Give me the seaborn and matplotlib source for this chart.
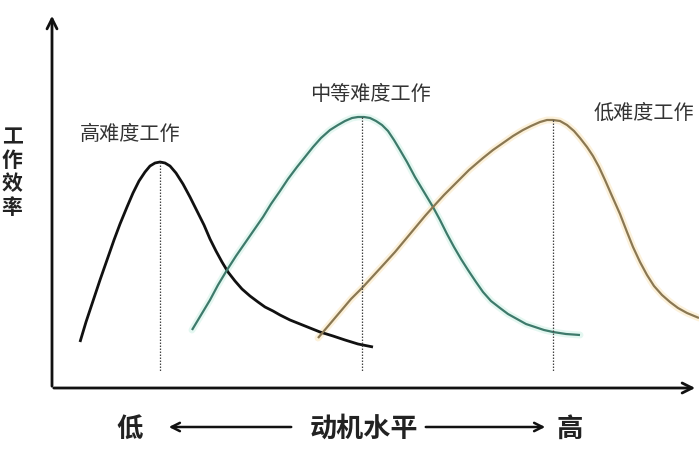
import matplotlib
matplotlib.use("Agg")
import matplotlib.pyplot as plt
import seaborn as sns
import pandas as pd

sns.set_theme(style="white")
plt.rcParams['font.family'] = ['Noto Sans CJK SC', 'DejaVu Sans']

# Values (x = motivation position, y = pixel row)
hard_x = [80, 86, 93, 100, 107, 114, 120, 127, 133, 139, 145, 150, 155, 160, 165, 170, 176, 183, 190, 197,
          204, 210, 216, 222, 228, 235, 242, 250, 258, 265, 273, 280, 290, 300, 310, 320, 333, 345, 358, 373]
hard_y = [342, 322, 301, 280, 260, 240, 224, 207, 193, 181, 172, 166, 163, 162, 163, 166, 173, 184, 197, 211,
          225, 239, 251, 262, 272, 281, 289, 296, 302, 307, 311, 315, 320, 324, 328, 332, 336, 340, 344, 347]

mid_x = [192, 201, 210, 218, 227, 236, 245, 254, 263, 271, 280, 288, 297, 305, 313, 321, 330, 338, 345, 352,
         358, 364, 370, 376, 382, 388, 394, 400, 407, 415, 424, 433, 440, 447, 454, 461, 468, 476, 483, 491,
         500, 508, 517, 526, 535, 544, 553, 566, 580]
mid_y = [330, 315, 300, 285, 270, 256, 243, 230, 217, 204, 191, 179, 167, 157, 147, 138, 130, 125, 121, 118,
         117, 117, 118, 121, 125, 131, 140, 150, 162, 177, 192, 207, 220, 234, 247, 259, 270, 282, 292, 301,
         308, 314, 319, 324, 327, 330, 332, 334, 335]

easy_x = [318, 329, 340, 351, 363, 374, 385, 395, 405, 415, 425, 433, 444, 455, 469, 483, 493, 503, 513, 523,
          531, 540, 547, 553, 560, 567, 574, 580, 587, 593, 599, 605, 612, 620, 627, 633, 640, 647, 654, 662,
          670, 678, 687, 699]
easy_y = [338, 325, 312, 299, 287, 275, 263, 252, 240, 228, 216, 207, 195, 184, 170, 158, 150, 143, 136, 130,
          126, 122, 120, 120, 121, 125, 131, 138, 147, 156, 167, 180, 196, 214, 232, 247, 262, 275, 286, 295,
          302, 308, 313, 318]

peaks_x = [160, 362, 553]
peaks_y = [162, 117, 120]

labels = ["高难度工作", "中等难度工作", "低难度工作"]
label_pos_x = [130, 370, 644]
label_pos_y = [134, 95, 113]

W, H = 699, 451
fig = plt.figure(figsize=(W / 100, H / 100), dpi=100)
ax = fig.add_axes([0, 0, 1, 1])
ax.set_xlim(0, W)
ax.set_ylim(H, 0)
ax.axis("off")

df = pd.concat([
    pd.DataFrame({"x": hard_x, "y": hard_y, "task": labels[0]}),
    pd.DataFrame({"x": mid_x, "y": mid_y, "task": labels[1]}),
    pd.DataFrame({"x": easy_x, "y": easy_y, "task": labels[2]}),
])

halo = {labels[1]: "#d2f3e8", labels[2]: "#fae8c2"}
main = {labels[0]: "#111111", labels[1]: "#3e7a6b", labels[2]: "#8a7853"}

# soft halos behind coloured curves
sns.lineplot(data=df[df.task != labels[0]], x="x", y="y", hue="task", palette=halo,
             sort=False, estimator=None, lw=5, alpha=0.6, legend=False, ax=ax)
sns.lineplot(data=df, x="x", y="y", hue="task", palette=main,
             sort=False, estimator=None, legend=False, ax=ax)
lws = [2.0, 1.6, 1.6]
for line, lw in zip(ax.lines[-3:], lws):
    line.set_linewidth(lw)
    line.set_solid_capstyle("butt")
    line.set_solid_joinstyle("round")

# dotted peak lines
for px, py in zip(peaks_x, peaks_y):
    ax.plot([px, px], [py, 372], ls=(0, (1.2, 1.2)), color="#444444", lw=0.9)

# axes with arrows
ax.annotate("", xy=(52, 13), xytext=(52, 389),
            arrowprops=dict(arrowstyle="->,head_length=0.6,head_width=0.3", lw=2, color="#111111"))
ax.annotate("", xy=(698, 388), xytext=(51, 388),
            arrowprops=dict(arrowstyle="->,head_length=0.6,head_width=0.3", lw=2, color="#111111"))

# curve labels
for t, lx, ly in zip(labels, label_pos_x, label_pos_y):
    ax.text(lx, ly, t, fontsize=14.5, color="#333333", ha="center", va="center")

# y label
ax.text(12, 172, "工\n作\n效\n率", fontsize=15, fontweight="bold", color="#222222",
        ha="center", va="center", linespacing=1.15)

# x label with arrows
ax.text(130, 429, "低", fontsize=19, fontweight="bold", color="#222222", ha="center", va="center")
ax.text(364, 429, "动机水平", fontsize=19.5, fontweight="bold", color="#222222", ha="center", va="center")
ax.text(570, 429, "高", fontsize=19, fontweight="bold", color="#222222", ha="center", va="center")
ax.annotate("", xy=(166, 427), xytext=(294, 427),
            arrowprops=dict(arrowstyle="->,head_length=0.5,head_width=0.25", lw=1.8, color="#111111"))
ax.annotate("", xy=(548, 427), xytext=(423, 427),
            arrowprops=dict(arrowstyle="->,head_length=0.5,head_width=0.25", lw=1.8, color="#111111"))

fig.savefig("out.png", dpi=100, facecolor="white")
